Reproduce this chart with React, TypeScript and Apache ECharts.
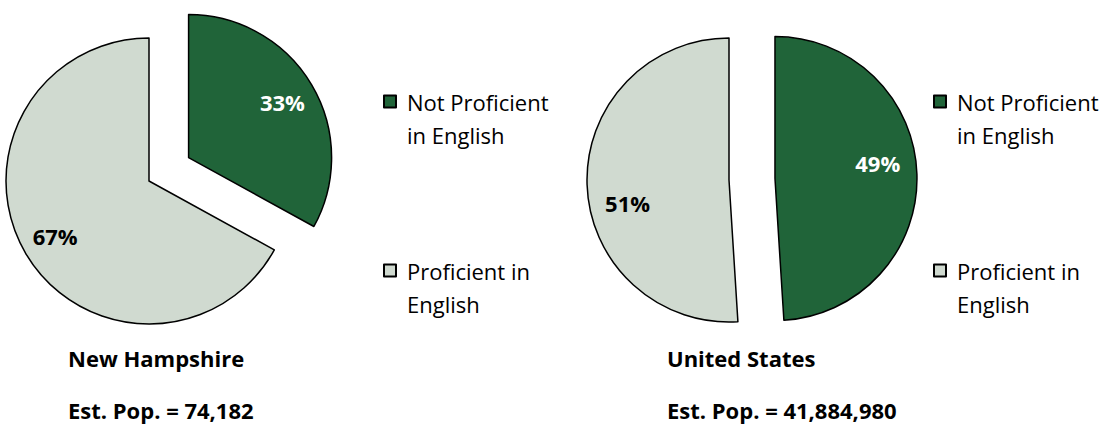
import React, { useEffect, useRef } from "react";
import * as echarts from "echarts";

const categories = ["Not Proficient\nin English", "Proficient in\nEnglish"];
const nhValues = [33, 67];
const usValues = [49, 51];
const regionTitles = ["New Hampshire", "United States"];
const popLabels = ["Est. Pop. = 74,182", "Est. Pop. = 41,884,980"];

const sliceColors = ["#206439", "#D0DAD0"];
const labelColors = ["#FFFFFF", "#000000"];
const FONT = "'Open Sans', 'Noto Sans', sans-serif";

function mainPie(values: number[], center: number[], radius: number) {
  return {
    type: "pie",
    center,
    radius,
    startAngle: 90,
    clockwise: true,
    selectedMode: "multiple",
    selectedOffset: 46,
    avoidLabelOverlap: false,
    label: { show: false },
    labelLine: { show: false },
    emphasis: { disabled: true },
    itemStyle: { borderColor: "#000000", borderWidth: 1.5 },
    data: values.map((v, i) => ({
      name: categories[i],
      value: v,
      selected: i === 0,
      itemStyle: { color: sliceColors[i] },
    })),
  };
}

// invisible ring that only carries the percentage labels
function labelPie(
  values: number[],
  center: number[],
  startAngle: number,
  ringMid: number,
  offset: number,
  showIdx: number[]
) {
  return {
    type: "pie",
    silent: true,
    center,
    radius: [ringMid - 14, ringMid + 14],
    startAngle,
    clockwise: true,
    selectedMode: "multiple",
    selectedOffset: offset,
    avoidLabelOverlap: false,
    labelLine: { show: false },
    emphasis: { disabled: true },
    legendHoverLink: false,
    itemStyle: { color: "transparent", borderWidth: 0 },
    label: {
      show: true,
      position: "inside",
      formatter: "{d}%",
      fontFamily: FONT,
      fontWeight: "bold",
      fontSize: 22,
    },
    data: values.map((v, i) => ({
      name: categories[i],
      value: v,
      selected: offset > 0 && i === 0,
      label: { show: showIdx.includes(i), color: labelColors[i] },
    })),
  };
}

function legendAt(left: number) {
  return {
    data: categories,
    orient: "vertical",
    left,
    top: 52,
    padding: 0,
    itemWidth: 12,
    itemHeight: 12,
    itemGap: 70,
    icon: "rect",
    selectedMode: false,
    formatter: (name: string) => "\n" + name,
    textStyle: {
      fontFamily: FONT,
      fontSize: 22,
      lineHeight: 33,
      color: "#000000",
      padding: [0, 0, 0, 6],
    },
  };
}

function titleAt(text: string, left: number, top: number) {
  return {
    text,
    left,
    top,
    padding: 0,
    textStyle: {
      fontFamily: FONT,
      fontWeight: "bold",
      fontSize: 22,
      lineHeight: 20,
      color: "#000000",
    },
  };
}

export default function App() {
  const ref = useRef<HTMLDivElement>(null);
  useEffect(() => {
    if (!ref.current) return;
    const chart = echarts.init(ref.current, null, { renderer: "svg" });
    chart.setOption({
      animation: false,
      backgroundColor: "#FFFFFF",
      title: [
        titleAt(regionTitles[0], 68, 348),
        titleAt(popLabels[0], 68, 399.5),
        titleAt(regionTitles[1], 667, 348),
        titleAt(popLabels[1], 667, 399.5),
      ],
      legend: [legendAt(383), legendAt(933)],
      series: [
        mainPie(nhValues, [149, 181], 143),
        mainPie(usValues, [729, 180], 142),
        labelPie(nhValues, [149, 181], 90, 106, 46, [0, 1]),
        labelPie(usValues, [775, 179], 97, 101, 0, [0]),
        labelPie(usValues, [729, 180], 101, 101, 0, [1]),
      ],
    });
    return () => chart.dispose();
  }, []);
  return (
    <div
      ref={ref}
      style={{ position: "absolute", left: 0, top: 0, width: 1105, height: 425 }}
    />
  );
}
